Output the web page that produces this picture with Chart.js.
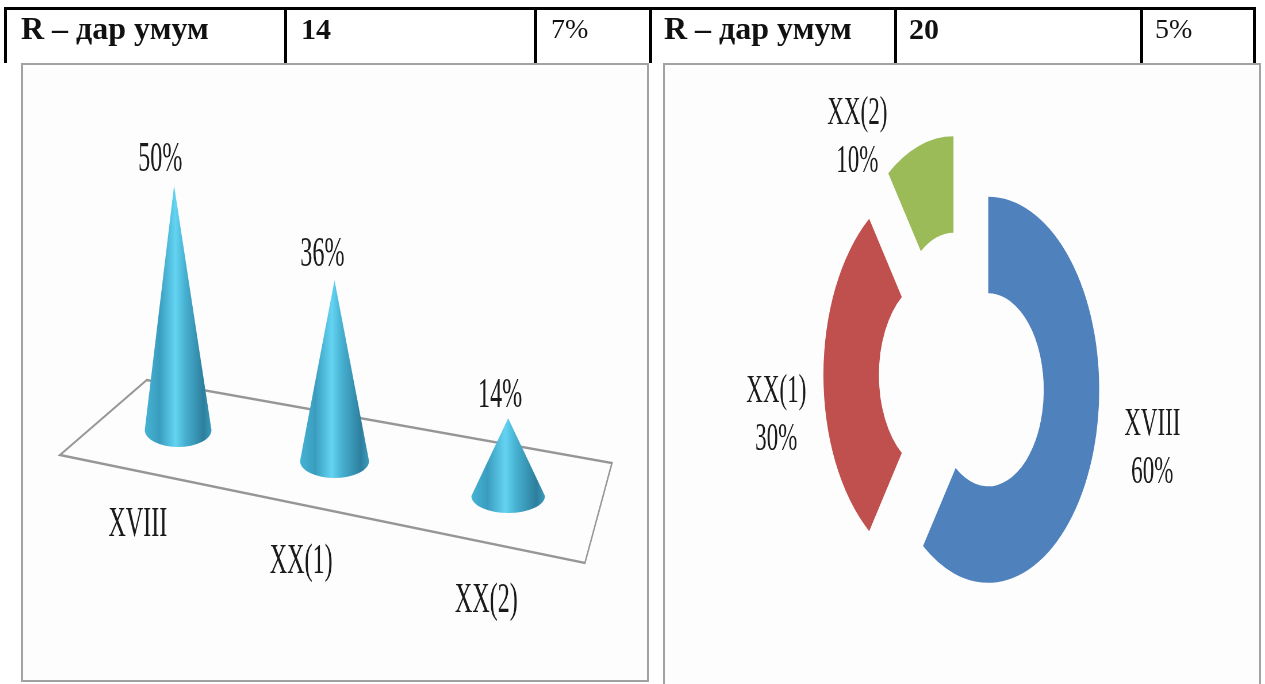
<!DOCTYPE html>
<html>
<head>
<meta charset="utf-8">
<script src="https://cdn.jsdelivr.net/npm/chart.js@4"></script>
<style>
  html, body { margin: 0; padding: 0; background: #fff; overflow: hidden; }
  body { width: 1265px; height: 684px; position: relative; font-family: "Liberation Serif", serif; color: #111; }
  table { position: absolute; left: 4px; top: 7px; border-collapse: collapse; table-layout: fixed; width: 1249px; filter: blur(0.4px); }
  td { border: 3px solid #000; border-bottom: none; height: 54px; padding: 0 0 0 14px; vertical-align: top; font-size: 28px; line-height: 37px; box-sizing: border-box; }
  td.r { padding-left: 12px; }
  td.b { font-weight: bold; font-size: 30px; }
  td.n { font-weight: bold; font-size: 32px; }
  .panel { position: absolute; top: 63px; height: 619px; box-sizing: border-box; background: #fdfdfd; border: 2px solid #a2a2a2; overflow: hidden; filter: blur(0.4px); }
  #p1 { left: 21px; width: 628px; }
  #p2 { left: 663px; width: 598px; height: 640px; }
  canvas { position: absolute; left: -1px; top: -1px; transform-origin: 0 0; transform: scaleX(0.575); }
  #ringChart { left: -2px; }
</style>
</head>
<body>
<table>
  <colgroup><col style="width:280px"><col style="width:250px"><col style="width:115px"><col style="width:245px"><col style="width:246px"><col style="width:113px"></colgroup>
  <tr>
    <td class="n">R – дар умум</td><td class="b">14</td><td>7%</td>
    <td class="n r">R – дар умум</td><td class="b r">20</td><td class="r">5%</td>
  </tr>
</table>
<div class="panel" id="p1"><canvas id="coneChart" width="1092" height="620"></canvas></div>
<div class="panel" id="p2"><canvas id="ringChart" width="1040" height="622"></canvas></div>

<script>
const categories = ['XVIII', 'XX(1)', 'XX(2)']
const coneValues = [50, 36, 14]
const ringValues = [60, 30, 10]
const ringColors = ['#4F81BD', '#C0504D', '#9BBB59']

const FONT = '42px "Liberation Serif"'

// the floor of the 3d chart, canvas px before the horizontal squeeze
const floorCorners = [[66, 391], [217, 316], [1026, 399], [979, 499]]
const coneNudge = [5, -10, 5]
const tipLean = [-7, 0, 0]
const tipDrop = [0, 31, 69]
const baseDrop = [0, 31, 66]
const coneHalf = [58, 60, 64]
const valueShift = [-24, -21, -14]
const valueRaise = [26, 25, 22]
const nameShift = [[-70, 95], [-58, 101], [-38, 105]]

const conePlugin = {
  id: 'cones',
  beforeDatasetsDraw (chart) {
    const ctx = chart.ctx
    ctx.save()
    ctx.strokeStyle = '#969696'
    ctx.lineWidth = 2.5
    ctx.beginPath()
    floorCorners.forEach((p, i) => i ? ctx.lineTo(p[0], p[1]) : ctx.moveTo(p[0], p[1]))
    ctx.closePath()
    ctx.stroke()
    ctx.restore()
  },
  afterDatasetsDraw (chart) {
    const ctx = chart.ctx
    chart.getDatasetMeta(0).data.forEach((bar, i) => {
      const x = bar.x + coneNudge[i]
      const tipX = x + tipLean[i]
      const tip = bar.y + tipDrop[i]
      const base = bar.base + baseDrop[i] + 17
      const half = coneHalf[i]
      const g = ctx.createLinearGradient(x - half, 0, x + half, 0)
      g.addColorStop(0, '#45B4D4')
      g.addColorStop(0.22, '#3A9DBF')
      g.addColorStop(0.46, '#64D4F2')
      g.addColorStop(0.6, '#48B2D2')
      g.addColorStop(0.88, '#2D7F9E')
      g.addColorStop(1, '#3C9BBA')
      ctx.save()
      ctx.fillStyle = g
      ctx.beginPath()
      ctx.moveTo(tipX, tip)
      ctx.lineTo(x - half, base)
      ctx.ellipse(x, base, half, 17, 0, Math.PI, 0, true)
      ctx.closePath()
      ctx.fill()
      ctx.fillStyle = '#1a1a1a'
      ctx.font = FONT
      ctx.textAlign = 'center'
      ctx.textBaseline = 'middle'
      ctx.fillText(coneValues[i] + '%', tipX + valueShift[i], tip - valueRaise[i])
      ctx.fillText(categories[i], x + nameShift[i][0], base + nameShift[i][1])
      ctx.restore()
    })
  }
}

new Chart(document.getElementById('coneChart'), {
  type: 'bar',
  data: {
    labels: categories,
    datasets: [{ data: coneValues, backgroundColor: 'rgba(0,0,0,0)' }]
  },
  options: {
    responsive: false,
    animation: false,
    devicePixelRatio: 1,
    layout: { padding: { left: 123, right: 108, top: 76, bottom: 271 } },
    plugins: { legend: { display: false }, tooltip: { enabled: false } },
    scales: {
      x: { display: false },
      y: { display: false, min: 0, max: 60 }
    }
  },
  plugins: [conePlugin]
})

// label centres from the ring centre, canvas px before the squeeze
const ringLabelShift = [[331, 73], [-323, 40], [-182, -238]]
const EXPLODE = 48

// the dataset offset option also changes the radii slice by slice, so move the arcs here
const ringExplode = {
  id: 'ringExplode',
  afterDatasetsUpdate (chart) {
    chart.getDatasetMeta(0).data.forEach(arc => {
      const mid = (arc.startAngle + arc.endAngle) / 2
      arc.x += Math.cos(mid) * EXPLODE
      arc.y += Math.sin(mid) * EXPLODE
    })
  }
}

const ringLabels = {
  id: 'ringLabels',
  afterDatasetsDraw (chart) {
    const ctx = chart.ctx
    const area = chart.chartArea
    categories.forEach((name, i) => {
      const x = (area.left + area.right) / 2 + ringLabelShift[i][0]
      const y = (area.top + area.bottom) / 2 + ringLabelShift[i][1]
      ctx.save()
      ctx.fillStyle = '#1a1a1a'
      ctx.font = '40px "Liberation Serif"'
      ctx.textAlign = 'center'
      ctx.textBaseline = 'middle'
      ctx.fillText(name, x, y - 24)
      ctx.fillText(ringValues[i] + '%', x, y + 24)
      ctx.restore()
    })
  }
}

new Chart(document.getElementById('ringChart'), {
  type: 'doughnut',
  data: {
    labels: categories,
    datasets: [{ data: ringValues, backgroundColor: ringColors, borderWidth: 0 }]
  },
  options: {
    responsive: false,
    animation: false,
    devicePixelRatio: 1,
    radius: 193,
    cutout: '50%',
    plugins: { legend: { display: false }, tooltip: { enabled: false } }
  },
  plugins: [ringExplode, ringLabels]
})
</script>
</body>
</html>
